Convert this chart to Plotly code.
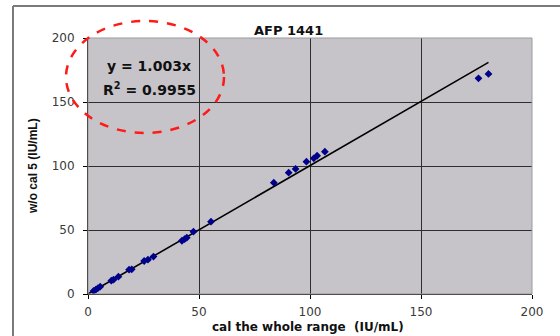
import plotly.graph_objects as go

title_text = "AFP 1441"
x_title = "cal the whole range\u00a0\u00a0(IU/mL)"
y_title = "w/o cal 5 (IU/mL)"
eq_text = "y = 1.003x"
r2_text = "R<sup>2</sup> = 0.9955"
slope = 1.003

x_vals = [2.5, 3.5, 4.5, 5.5, 10.5, 11.5, 13.7, 18.5, 19.7, 25.3, 27.0, 29.5,
          42.3, 43.5, 44.5, 47.5, 55.4, 83.7, 90.4, 93.5, 98.4, 101.7, 103.2, 106.7,
          175.9, 180.4]
y_vals = [2.4, 3.4, 4.6, 5.7, 10.4, 11.2, 13.5, 19.0, 19.3, 25.8, 26.8, 29.2,
          41.6, 42.8, 44.0, 48.7, 56.5, 87.0, 94.8, 97.7, 103.4, 106.0, 108.0, 111.2,
          168.5, 171.9]
axis_ticks = [0, 50, 100, 150, 200]

W, H = 560, 336
L, R, T, B = 88, 28, 38, 42
pw, ph = W - L - R, H - T - B

def px(xp):
    return (xp - L) / pw

def py(yp):
    return (H - B - yp) / ph

fit_x = [0, max(x_vals)]
fit_y = [slope * v for v in fit_x]

fig = go.Figure()
fig.add_trace(go.Scatter(x=fit_x, y=fit_y, mode="lines",
                         line=dict(color="black", width=1.6), hoverinfo="skip"))
fig.add_trace(go.Scatter(x=x_vals, y=y_vals, mode="markers",
                         marker=dict(symbol="diamond", color="#00008b", size=6,
                                     line=dict(width=0))))

wide = "DejaVu Sans, Verdana, sans-serif"
narrow = "Liberation Sans, Arial, sans-serif"
tickfont = dict(family=wide, size=12, color="#3a3a3a")
fig.update_layout(
    width=W, height=H,
    margin=dict(l=L, r=R, t=T, b=B, pad=0),
    paper_bgcolor="white",
    plot_bgcolor="#c6c4c8",
    showlegend=False,
    font=dict(family=wide, size=12, color="#222"),
    xaxis=dict(range=[0, 200], tickvals=axis_ticks, showgrid=True,
               gridcolor="#2e2e2e", gridwidth=1, zeroline=False,
               showline=True, linecolor="black", linewidth=1,
               ticks="outside", ticklen=4, tickcolor="black",
               ticklabelstandoff=3, tickfont=tickfont),
    yaxis=dict(range=[0, 200], tickvals=axis_ticks, showgrid=True,
               gridcolor="#2e2e2e", gridwidth=1, zeroline=False,
               showline=True, linecolor="black", linewidth=1,
               ticks="outside", ticklen=4, tickcolor="black",
               ticklabelstandoff=6, tickfont=tickfont),
)

shapes = [
    # plot-area border (gray)
    dict(type="rect", xref="paper", yref="paper", x0=0, x1=1, y0=0, y1=1,
         line=dict(color="#9a9a9a", width=1), fillcolor="rgba(0,0,0,0)", layer="above"),
    # outer frame: left and top
    dict(type="line", xref="paper", yref="paper", x0=px(13), x1=px(13), y0=py(6), y1=py(340),
         line=dict(color="#7a7a7a", width=2)),
    dict(type="line", xref="paper", yref="paper", x0=px(13), x1=px(565), y0=py(6), y1=py(6),
         line=dict(color="#7a7a7a", width=2)),
    # red dashed ellipse
    dict(type="circle", xref="paper", yref="paper", x0=px(66), x1=px(224), y0=py(133), y1=py(21),
         line=dict(color="#ff1a1a", width=2.5, dash="dash")),
]
fig.update_layout(shapes=shapes)

def note(text, xp, yp, size, family=wide, angle=0):
    return dict(text=text, x=px(xp), y=py(yp), xref="paper", yref="paper",
                xanchor="center", yanchor="middle", showarrow=False, textangle=angle,
                font=dict(family=family, size=size, color="#111"))

ann = [
    note("<b>" + title_text + "</b>", 288, 30, 13),
    note("<b>" + x_title + "</b>", 308, 327, 12),
    note("<b>" + y_title + "</b>", 33, 166, 12, family=narrow, angle=-90),
    note("<b>" + eq_text + "</b>", 149, 66, 14),
    note("<b>" + r2_text + "</b>", 149, 89, 14),
]
fig.update_layout(annotations=ann)

fig.write_html("out.html", config={"displayModeBar": False},
               post_script="document.body.style.margin='0';document.body.style.padding='0';")
